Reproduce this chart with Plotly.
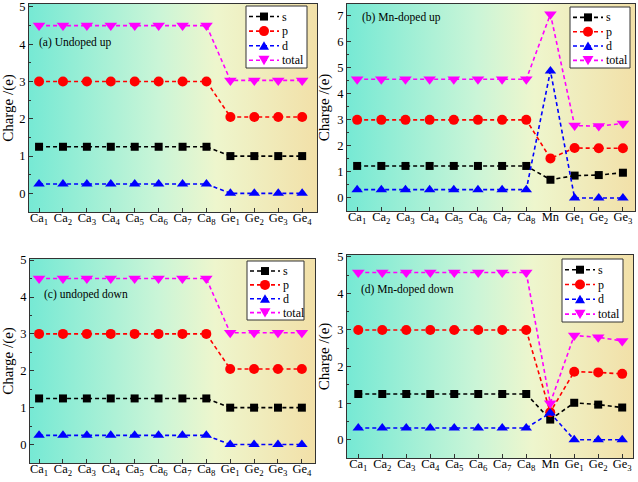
import plotly.graph_objects as go
from plotly.subplots import make_subplots

# ---------------- data ----------------
labels_undoped = ["Ca<sub>1</sub>", "Ca<sub>2</sub>", "Ca<sub>3</sub>", "Ca<sub>4</sub>", "Ca<sub>5</sub>",
                  "Ca<sub>6</sub>", "Ca<sub>7</sub>", "Ca<sub>8</sub>", "Ge<sub>1</sub>", "Ge<sub>2</sub>",
                  "Ge<sub>3</sub>", "Ge<sub>4</sub>"]
labels_doped = ["Ca<sub>1</sub>", "Ca<sub>2</sub>", "Ca<sub>3</sub>", "Ca<sub>4</sub>", "Ca<sub>5</sub>",
                "Ca<sub>6</sub>", "Ca<sub>7</sub>", "Ca<sub>8</sub>", "Mn", "Ge<sub>1</sub>",
                "Ge<sub>2</sub>", "Ge<sub>3</sub>"]

a_s = [1.25, 1.25, 1.25, 1.25, 1.25, 1.25, 1.25, 1.25, 1.0, 1.0, 1.0, 1.0]
a_p = [3.0, 3.0, 3.0, 3.0, 3.0, 3.0, 3.0, 3.0, 2.05, 2.05, 2.05, 2.05]
a_d = [0.25, 0.25, 0.25, 0.25, 0.25, 0.25, 0.25, 0.25, 0.0, 0.0, 0.0, 0.0]
a_total = [4.5, 4.5, 4.5, 4.5, 4.5, 4.5, 4.5, 4.5, 3.03, 3.03, 3.03, 3.03]

b_s = [1.23, 1.23, 1.23, 1.23, 1.23, 1.23, 1.23, 1.23, 0.70, 0.86, 0.88, 0.97]
b_p = [3.0, 3.0, 3.0, 3.0, 3.0, 3.0, 3.0, 3.0, 1.52, 1.92, 1.91, 1.91]
b_d = [0.32, 0.32, 0.32, 0.32, 0.32, 0.32, 0.32, 0.32, 4.88, 0.0, 0.0, 0.0]
b_total = [4.56, 4.56, 4.56, 4.56, 4.56, 4.56, 4.56, 4.56, 7.06, 2.78, 2.76, 2.86]

c_s = [1.25, 1.25, 1.25, 1.25, 1.25, 1.25, 1.25, 1.25, 1.0, 1.0, 1.0, 1.0]
c_p = [3.0, 3.0, 3.0, 3.0, 3.0, 3.0, 3.0, 3.0, 2.05, 2.05, 2.05, 2.05]
c_d = [0.25, 0.25, 0.25, 0.25, 0.25, 0.25, 0.25, 0.25, 0.0, 0.0, 0.0, 0.0]
c_total = [4.5, 4.5, 4.5, 4.5, 4.5, 4.5, 4.5, 4.5, 3.03, 3.03, 3.03, 3.03]

d_s = [1.25, 1.25, 1.25, 1.25, 1.25, 1.25, 1.25, 1.25, 0.55, 1.01, 0.96, 0.88]
d_p = [3.0, 3.0, 3.0, 3.0, 3.0, 3.0, 3.0, 3.0, 0.75, 1.86, 1.84, 1.80]
d_d = [0.32, 0.32, 0.32, 0.32, 0.32, 0.32, 0.32, 0.32, 0.73, 0.0, 0.0, 0.0]
d_total = [4.57, 4.57, 4.57, 4.57, 4.57, 4.57, 4.57, 4.57, 1.0, 2.85, 2.80, 2.70]

panel_titles = ["(a) Undoped up", "(b) Mn-doped up", "(c) undoped down", "(d) Mn-doped down"]
series_names = ["s", "p", "d", "total"]

# ---------------- style ----------------
W, H = 638, 482
FONT = "Liberation Serif"
colors = ["#000000", "#ff0000", "#0000ff", "#ff00ff"]
symbols = ["square", "circle", "triangle-up", "triangle-down"]
msizes = [8, 10, 10, 11]
DASH = "4px,3px"
bg_scale = [[0.0, "rgb(118,233,212)"], [0.45, "rgb(202,245,215)"],
            [0.65, "rgb(238,246,205)"], [1.0, "rgb(242,224,168)"]]

panels = [
    dict(labels=labels_undoped, data=[a_s, a_p, a_d, a_total], yr=[-0.5, 5.08], ymax_tick=5,
         xr=[-0.42, 11.62], xd=[29 / W, 317 / W], yd=[1 - 212 / H, 1 - 4 / H],
         leg=(246, 6, 307, 68), ann=(-0.1, 4.04)),
    dict(labels=labels_doped, data=[b_s, b_p, b_d, b_total], yr=[-0.5, 7.45], ymax_tick=7,
         xr=[-0.42, 11.5], xd=[347 / W, 635 / W], yd=[1 - 211 / H, 1 - 4 / H],
         leg=(570, 7, 630, 68), ann=(0.1, 6.94)),
    dict(labels=labels_undoped, data=[c_s, c_p, c_d, c_total], yr=[-0.5, 5.03], ymax_tick=5,
         xr=[-0.38, 11.55], xd=[30 / W, 315 / W], yd=[1 - 463 / H, 1 - 259 / H],
         leg=(247, 261, 304, 320), ann=(0.12, 4.07)),
    dict(labels=labels_doped, data=[d_s, d_p, d_d, d_total], yr=[-0.5, 5.05], ymax_tick=5,
         xr=[-0.47, 11.45], xd=[347 / W, 633 / W], yd=[1 - 458 / H, 1 - 255 / H],
         leg=(562, 259, 623, 322), ann=(0.05, 4.1)),
]


def px(x):
    return x / W


def py(y):
    return 1 - y / H


fig = make_subplots(rows=2, cols=2)
positions = [(1, 1), (1, 2), (2, 1), (2, 2)]
shapes = []

for i, (pn, (r, c)) in enumerate(zip(panels, positions)):
    x0, x1 = pn["xr"]
    y0, y1 = pn["yr"]
    # gradient background filling plot area
    fig.add_trace(go.Scatter(
        x=[x0, x1, x1, x0, x0], y=[y0, y0, y1, y1, y0], mode="lines", fill="toself",
        line=dict(width=0, color="rgba(0,0,0,0)"),
        fillgradient=dict(type="horizontal", colorscale=bg_scale),
        hoverinfo="skip", showlegend=False), row=r, col=c)
    xs = list(range(len(pn["labels"])))
    for k in range(4):
        fig.add_trace(go.Scatter(
            x=xs, y=pn["data"][k], name=series_names[k], mode="lines+markers",
            line=dict(color=colors[k], width=1.6, dash=DASH),
            marker=dict(symbol=symbols[k], size=msizes[k], color=colors[k]),
            showlegend=False), row=r, col=c)
    fig.update_xaxes(range=pn["xr"], domain=pn["xd"], tickvals=xs, ticktext=pn["labels"],
                     automargin=False, ticklabeloverflow="allow", ticklabelstandoff=-6,
                     showgrid=False, zeroline=False, showline=True, mirror=True,
                     linecolor="#333333", linewidth=1, ticks="inside", ticklen=4,
                     tickcolor="#333333", tickfont=dict(family=FONT, size=12.5, color="black"),
                     row=r, col=c)
    fig.update_yaxes(range=pn["yr"], domain=pn["yd"],
                     tickvals=list(range(0, pn["ymax_tick"] + 1)),
                     automargin=False, ticklabeloverflow="allow",
                     showgrid=False, zeroline=False, showline=True, mirror=True,
                     linecolor="#333333", linewidth=1, ticks="inside", ticklen=4,
                     tickcolor="#333333",
                     minor=dict(ticks="inside", ticklen=2, dtick=0.5, tickcolor="#333333"),
                     tickfont=dict(family=FONT, size=12.5, color="black"),
                     title=dict(text="Charge /(e)", font=dict(family=FONT, size=15, color="black"),
                                standoff=4),
                     row=r, col=c)
    xa = "x" if i == 0 else f"x{i + 1}"
    ya = "y" if i == 0 else f"y{i + 1}"
    fig.add_annotation(x=pn["ann"][0], y=pn["ann"][1], xref=xa, yref=ya, text=panel_titles[i],
                       showarrow=False, xanchor="left", yanchor="middle",
                       font=dict(family=FONT, size=11.5, color="black"))

    # ---- legend box (drawn in paper coordinates) ----
    L, T, R, B = pn["leg"]
    h = B - T
    shapes.append(dict(type="rect", xref="paper", yref="paper", x0=px(L), x1=px(R),
                       y0=py(B), y1=py(T), fillcolor="white",
                       line=dict(color="#333333", width=1), layer="above"))
    for k in range(4):
        cy = T + 0.17 * h + k * 0.235 * h
        cx = L + 18
        shapes.append(dict(type="line", xref="paper", yref="paper", x0=px(L + 3), x1=px(L + 33),
                           y0=py(cy), y1=py(cy),
                           line=dict(color=colors[k], width=1.6, dash=DASH), layer="above"))
        s = msizes[k] / 2
        if symbols[k] == "square":
            shapes.append(dict(type="rect", xref="paper", yref="paper",
                               x0=px(cx - s), x1=px(cx + s), y0=py(cy + s), y1=py(cy - s),
                               fillcolor=colors[k], line=dict(width=0), layer="above"))
        elif symbols[k] == "circle":
            shapes.append(dict(type="circle", xref="paper", yref="paper",
                               x0=px(cx - s), x1=px(cx + s), y0=py(cy + s), y1=py(cy - s),
                               fillcolor=colors[k], line=dict(width=0), layer="above"))
        elif symbols[k] == "triangle-up":
            path = (f"M {px(cx - s)} {py(cy + s * 0.8)} L {px(cx + s)} {py(cy + s * 0.8)} "
                    f"L {px(cx)} {py(cy - s * 0.9)} Z")
            shapes.append(dict(type="path", xref="paper", yref="paper", path=path,
                               fillcolor=colors[k], line=dict(width=0), layer="above"))
        else:
            path = (f"M {px(cx - s)} {py(cy - s * 0.8)} L {px(cx + s)} {py(cy - s * 0.8)} "
                    f"L {px(cx)} {py(cy + s * 0.9)} Z")
            shapes.append(dict(type="path", xref="paper", yref="paper", path=path,
                               fillcolor=colors[k], line=dict(width=0), layer="above"))
        fig.add_annotation(x=px(L + 35), y=py(cy), xref="paper", yref="paper",
                           text=series_names[k], showarrow=False, xanchor="left",
                           yanchor="middle", borderpad=0,
                           font=dict(family=FONT, size=12, color="black"))

fig.update_layout(width=W, height=H, margin=dict(l=0, r=0, t=0, b=0, autoexpand=False),
                  plot_bgcolor="white", paper_bgcolor="white", showlegend=False,
                  font=dict(family=FONT), shapes=shapes)

fig.write_html("out.html", config={"displayModeBar": False},
               post_script="document.body.style.margin='0px';document.body.style.overflow='hidden';")
